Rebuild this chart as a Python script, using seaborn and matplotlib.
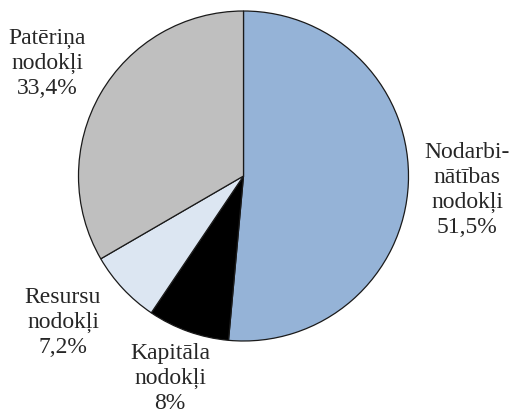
import matplotlib
matplotlib.use("Agg")
import matplotlib.pyplot as plt
import seaborn as sns

# Tax revenue structure by tax base
categories = ["Nodarbi-\nnātības\nnodokļi", "Kapitāla\nnodokļi", "Resursu\nnodokļi", "Patēriņa\nnodokļi"]
shares = [51.5, 8.0, 7.2, 33.4]
colors = ["#95B3D7", "#000000", "#DCE6F2", "#BFBFBF"]

# label anchor points (axes data units, pie radius = 1)
label_pos = [(1.355, -0.08), (-0.445, -1.222), (-1.094, -0.88), (-1.191, 0.69)]

sns.set_theme(style="white")
plt.rcParams["font.family"] = ["Liberation Serif", "DejaVu Serif"]

fig = plt.figure(figsize=(5.13, 4.14), dpi=100)
ax = fig.add_axes([0, 0, 1, 1])

ax.pie(shares, colors=colors, startangle=90, counterclock=False, radius=1.0,
       wedgeprops=dict(edgecolor="#1a1a1a", linewidth=0.9))


def fmt(v):
    return f"{v:g}".replace(".", ",") + "%"


for name, v, (x, y) in zip(categories, shares, label_pos):
    ax.text(x, y, f"{name}\n{fmt(v)}", ha="center", va="center",
            fontsize=17, color="#262626", linespacing=1.25)

ax.set_xlim((0 - 243.5) / 165, (513 - 243.5) / 165)
ax.set_ylim((177 - 414) / 165, (177 - 0) / 165)
ax.set_aspect("equal")
ax.axis("off")

fig.savefig("out.png", dpi=100, facecolor="white")
